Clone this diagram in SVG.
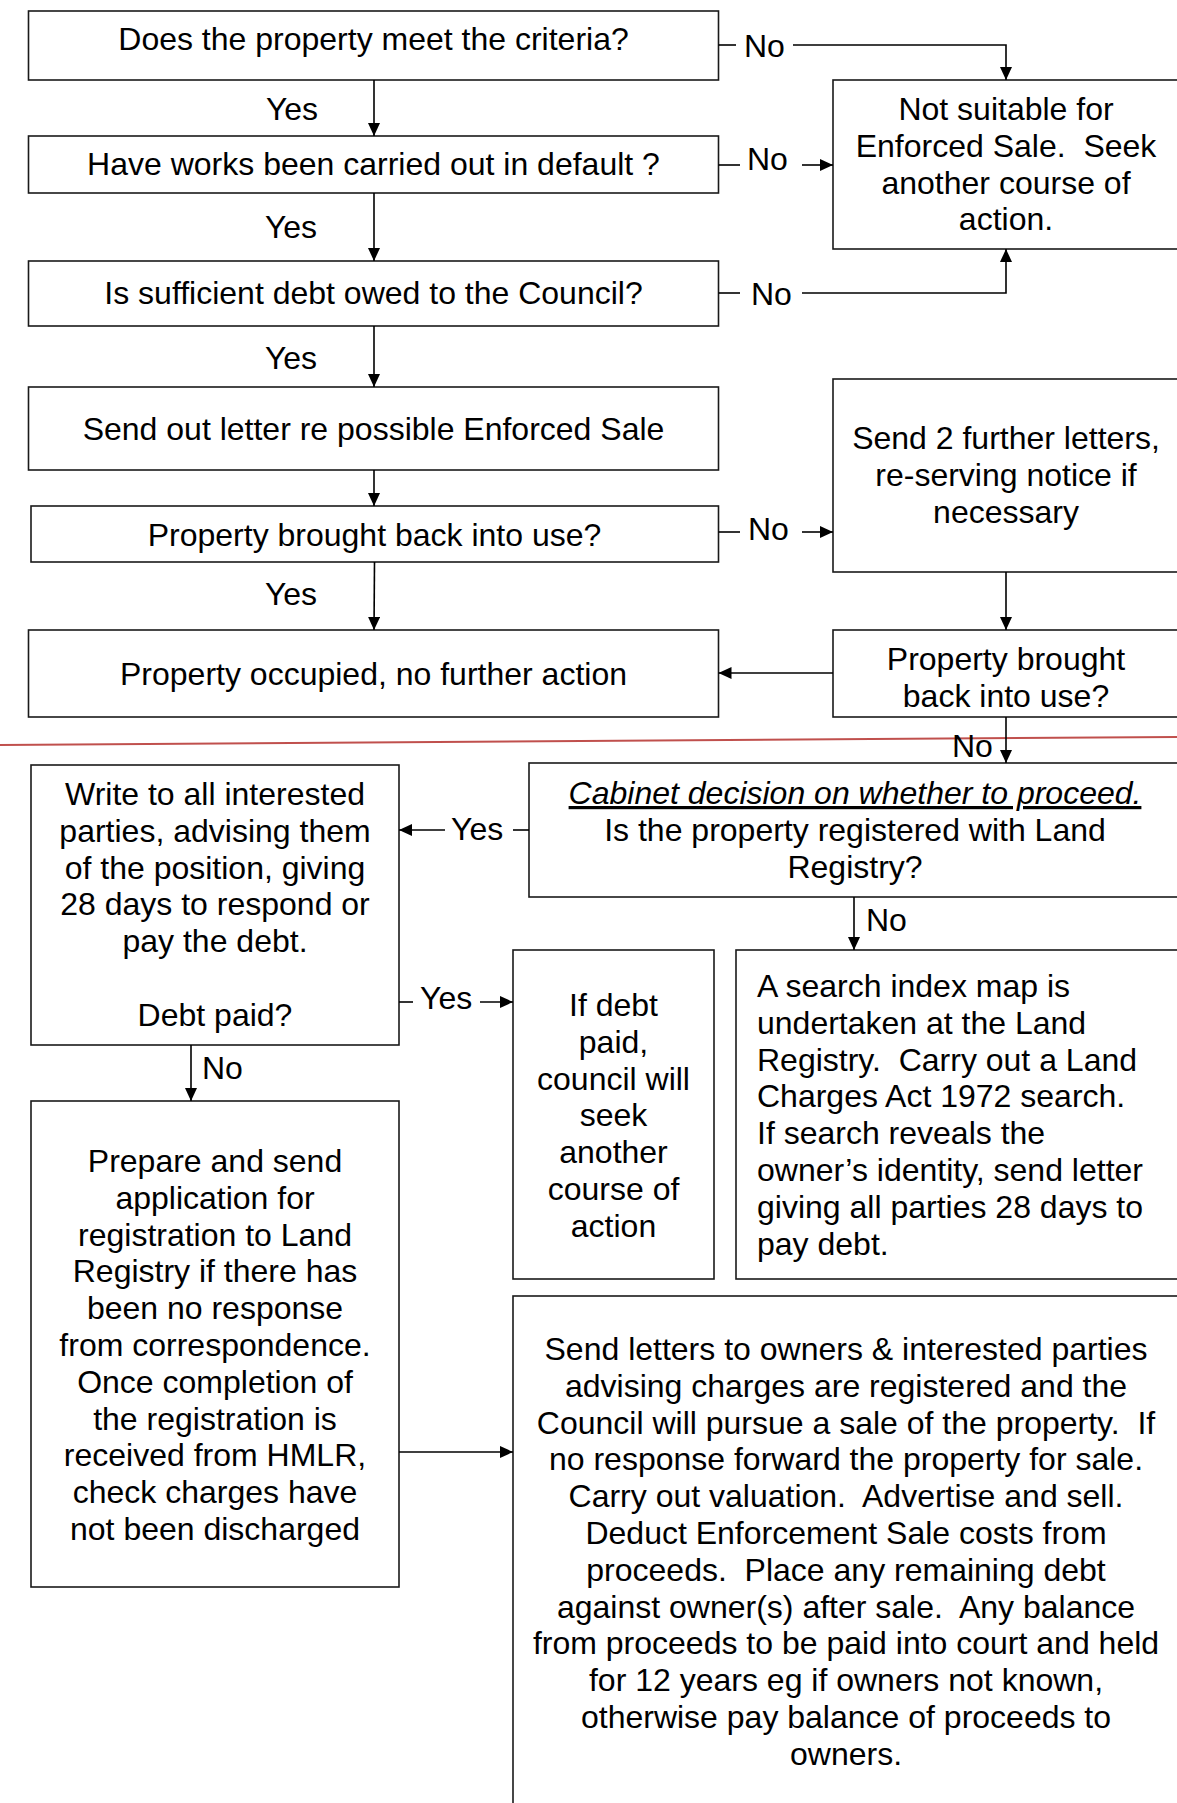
<svg xmlns="http://www.w3.org/2000/svg" width="1177" height="1803" viewBox="0 0 1177 1803">
<style>
  .box { fill: #ffffff; stroke: #1a1a1a; stroke-width: 1.6; }
  .t { font-family: "Liberation Sans", Arial, sans-serif; font-size: 32px; fill: #000; white-space: pre; }
  .c { text-anchor: middle; }
  .ln { stroke: #000; stroke-width: 1.6; fill: none; }
  .arr { stroke: #000; stroke-width: 1.6; fill: none; marker-end: url(#ah); }
</style>
<defs>
  <marker id="ah" markerUnits="userSpaceOnUse" markerWidth="14" markerHeight="12" refX="13" refY="6" orient="auto">
    <path d="M0,0 L13,6 L0,12 Z" fill="#000"/>
  </marker>
</defs>
<rect width="1177" height="1803" fill="#ffffff"/>

<g id="nodes">
  <g id="n1"><rect class="box" x="28.5" y="11" width="690" height="69"/>
    <text class="t c" x="373.5" y="50">Does the property meet the criteria?</text></g>
  <g id="n2"><rect class="box" x="28.5" y="136" width="690" height="57"/>
    <text class="t c" x="373.5" y="175">Have works been carried out in default ?</text></g>
  <g id="n3"><rect class="box" x="28.5" y="261" width="690" height="65"/>
    <text class="t c" x="373.5" y="304">Is sufficient debt owed to the Council?</text></g>
  <g id="n4"><rect class="box" x="28.5" y="387" width="690" height="83"/>
    <text class="t c" x="373.5" y="440">Send out letter re possible Enforced Sale</text></g>
  <g id="n5"><rect class="box" x="31" y="506" width="687.5" height="56"/>
    <text class="t c" x="374.5" y="546">Property brought back into use?</text></g>
  <g id="n6"><rect class="box" x="28.5" y="630" width="690" height="87"/>
    <text class="t c" x="373.5" y="685">Property occupied, no further action</text></g>
  <g id="n7"><rect class="box" x="833" y="80" width="360" height="169"/>
    <text class="t c" x="1006" y="120">Not suitable for<tspan x="1006" dy="36.8">Enforced Sale.  Seek</tspan><tspan x="1006" dy="36.8">another course of</tspan><tspan x="1006" dy="36.8">action.</tspan></text></g>
  <g id="n8"><rect class="box" x="833" y="379" width="360" height="193"/>
    <text class="t c" x="1006" y="449">Send 2 further letters,<tspan x="1006" dy="36.8">re-serving notice if</tspan><tspan x="1006" dy="36.8">necessary</tspan></text></g>
  <g id="n9"><rect class="box" x="833" y="630" width="360" height="87"/>
    <text class="t c" x="1006" y="670">Property brought<tspan x="1006" dy="36.8">back into use?</tspan></text></g>
  <g id="n10"><rect class="box" x="529" y="763" width="660" height="134"/>
    <text class="t c" x="855" y="804" font-style="italic" text-decoration="underline">Cabinet decision on whether to proceed.</text>
    <text class="t c" x="855" y="841">Is the property registered with Land<tspan x="855" dy="36.8">Registry?</tspan></text></g>
  <g id="n11"><rect class="box" x="31" y="765" width="368" height="280"/>
    <text class="t c" x="215" y="805">Write to all interested<tspan x="215" dy="36.8">parties, advising them</tspan><tspan x="215" dy="36.8">of the position, giving</tspan><tspan x="215" dy="36.8">28 days to respond or</tspan><tspan x="215" dy="36.8">pay the debt.</tspan><tspan x="215" dy="73.6">Debt paid?</tspan></text></g>
  <g id="n12"><rect class="box" x="513" y="950" width="201" height="329"/>
    <text class="t c" x="613.5" y="1016">If debt<tspan x="613.5" dy="36.8">paid,</tspan><tspan x="613.5" dy="36.8">council will</tspan><tspan x="613.5" dy="36.8">seek</tspan><tspan x="613.5" dy="36.8">another</tspan><tspan x="613.5" dy="36.8">course of</tspan><tspan x="613.5" dy="36.8">action</tspan></text></g>
  <g id="n13"><rect class="box" x="736" y="950" width="460" height="329"/>
    <text class="t" x="757" y="997">A search index map is<tspan x="757" dy="36.8">undertaken at the Land</tspan><tspan x="757" dy="36.8">Registry.  Carry out a Land</tspan><tspan x="757" dy="36.8">Charges Act 1972 search.</tspan><tspan x="757" dy="36.8">If search reveals the</tspan><tspan x="757" dy="36.8">owner’s identity, send letter</tspan><tspan x="757" dy="36.8">giving all parties 28 days to</tspan><tspan x="757" dy="36.8">pay debt.</tspan></text></g>
  <g id="n14"><rect class="box" x="31" y="1101" width="368" height="486"/>
    <text class="t c" x="215" y="1172">Prepare and send<tspan x="215" dy="36.8">application for</tspan><tspan x="215" dy="36.8">registration to Land</tspan><tspan x="215" dy="36.8">Registry if there has</tspan><tspan x="215" dy="36.8">been no response</tspan><tspan x="215" dy="36.8">from correspondence.</tspan><tspan x="215" dy="36.8">Once completion of</tspan><tspan x="215" dy="36.8">the registration is</tspan><tspan x="215" dy="36.8">received from HMLR,</tspan><tspan x="215" dy="36.8">check charges have</tspan><tspan x="215" dy="36.8">not been discharged</tspan></text></g>
  <g id="n15"><rect class="box" x="513" y="1296" width="680" height="530"/>
    <text class="t c" x="846" y="1360">Send letters to owners &amp; interested parties<tspan x="846" dy="36.8">advising charges are registered and the</tspan><tspan x="846" dy="36.8">Council will pursue a sale of the property.  If</tspan><tspan x="846" dy="36.8">no response forward the property for sale.</tspan><tspan x="846" dy="36.8">Carry out valuation.  Advertise and sell.</tspan><tspan x="846" dy="36.8">Deduct Enforcement Sale costs from</tspan><tspan x="846" dy="36.8">proceeds.  Place any remaining debt</tspan><tspan x="846" dy="36.8">against owner(s) after sale.  Any balance</tspan><tspan x="846" dy="36.8">from proceeds to be paid into court and held</tspan><tspan x="846" dy="36.8">for 12 years eg if owners not known,</tspan><tspan x="846" dy="36.8">otherwise pay balance of proceeds to</tspan><tspan x="846" dy="36.8">owners.</tspan></text></g>
</g>

<line x1="0" y1="745" x2="1177" y2="737" stroke="#c0504d" stroke-width="2"/>

<g id="connectors">
  <line class="arr" x1="374" y1="80" x2="374" y2="136"/>
  <text class="t c" x="292" y="120">Yes</text>
  <line class="arr" x1="374" y1="193" x2="374" y2="261"/>
  <text class="t c" x="291" y="238">Yes</text>
  <line class="arr" x1="374" y1="326" x2="374" y2="387"/>
  <text class="t c" x="291" y="369">Yes</text>
  <line class="arr" x1="374" y1="470" x2="374" y2="506"/>
  <line class="arr" x1="374.5" y1="562" x2="374" y2="630"/>
  <text class="t c" x="291" y="605">Yes</text>

  <line class="ln" x1="718.5" y1="45" x2="736" y2="45"/>
  <text class="t" x="744" y="57">No</text>
  <path class="arr" d="M793,45 H1006 V80"/>

  <line class="ln" x1="718.5" y1="165" x2="740" y2="165"/>
  <text class="t" x="747" y="170">No</text>
  <line class="arr" x1="802" y1="165" x2="833" y2="165"/>

  <line class="ln" x1="718.5" y1="293" x2="740" y2="293"/>
  <text class="t" x="751" y="305">No</text>
  <path class="arr" d="M802,293 H1006 V249"/>

  <line class="ln" x1="718.5" y1="532" x2="740" y2="532"/>
  <text class="t" x="748" y="540">No</text>
  <line class="arr" x1="802" y1="532" x2="833" y2="532"/>

  <line class="arr" x1="1006" y1="572" x2="1006" y2="630"/>
  <line class="arr" x1="833" y1="673" x2="718.5" y2="673"/>

  <line class="arr" x1="1006" y1="717" x2="1006" y2="763"/>
  <text class="t" x="952" y="757">No</text>

  <line class="ln" x1="513" y1="830" x2="529" y2="830"/>
  <text class="t" x="451" y="840">Yes</text>
  <line class="arr" x1="445" y1="830" x2="399" y2="830"/>

  <line class="arr" x1="854" y1="897" x2="854" y2="950"/>
  <text class="t" x="866" y="931">No</text>

  <line class="ln" x1="399" y1="1002" x2="413" y2="1002"/>
  <text class="t" x="420" y="1009">Yes</text>
  <line class="arr" x1="480" y1="1002" x2="513" y2="1002"/>

  <line class="arr" x1="191" y1="1045" x2="191" y2="1101"/>
  <text class="t" x="202" y="1079">No</text>

  <line class="arr" x1="399" y1="1452" x2="513" y2="1452"/>
</g>
</svg>
